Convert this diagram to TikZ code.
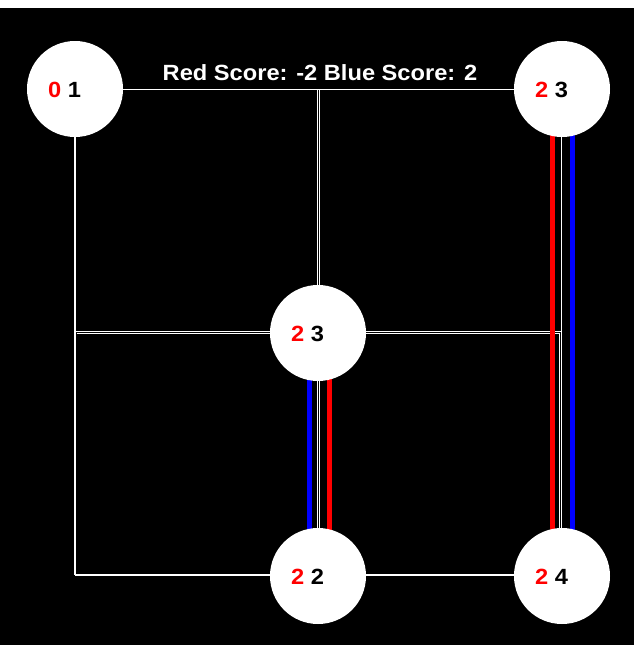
\documentclass[tikz,border=0pt]{standalone}
\usepackage{fontspec}
\setmainfont[FakeStretch=1.075]{Liberation Sans}
\begin{document}
\begin{tikzpicture}[x=1pt,y=-1pt,
  edge/.style={draw=white,line width=1.4pt},
  redline/.style={draw=red,line width=5pt},
  blueline/.style={draw=blue,line width=5pt},
  ball/.style={circle,fill=white,draw=none,minimum size=96pt,inner sep=0pt},
  lbl/.style={anchor=base west,inner sep=0pt,font=\fontsize{22pt}{24pt}\selectfont\bfseries},
  title/.style={anchor=base,inner sep=0pt,text=white,font=\fontsize{22pt}{24pt}\selectfont\bfseries}]
\fill[black] (0,0) rectangle (634,645);
\fill[white] (0,0) rectangle (634,7.5);
\useasboundingbox (0,0) rectangle (634,645);
% centres
\coordinate (a) at (75,89);
\coordinate (b) at (562,89);
\coordinate (c) at (318,333);
\coordinate (d) at (318,576);
\coordinate (e) at (562,576);
\coordinate (t) at (318,89);
\coordinate (l) at (75,333);
\coordinate (r) at (562,333);
\coordinate (bl) at (75,576);
% white edges
\draw[edge] ([yshift=-0.3pt]a) -- ([yshift=-0.3pt]b);
\draw[edge] ([xshift=-0.8pt]t) -- ([xshift=-0.8pt]c);
\draw[edge] ([xshift=1.3pt]t) -- ([xshift=1.3pt]c);
\draw[edge] (a) -- ([yshift=1pt]bl);
\draw[edge] ([yshift=1.3pt]l) -- ([xshift=-0.3pt,yshift=1.3pt]r);
\draw[edge] ([xshift=1.5pt,yshift=-0.5pt]l) -- ([xshift=-2.3pt,yshift=-0.5pt]r);
\draw[edge] ([xshift=-0.3pt]b) -- ([xshift=-0.3pt]e);
\draw[edge] ([xshift=-2.3pt,yshift=-0.5pt]r) -- ([xshift=-2.3pt]e);
\draw[edge] ([yshift=1pt]bl) -- ([yshift=1pt]e);
\draw[edge] ([xshift=-0.8pt]c) -- ([xshift=-0.8pt]d);
\draw[edge] ([xshift=1.3pt]c) -- ([xshift=1.3pt]d);
% coloured edges
\draw[redline] ([xshift=-9.7pt]b) -- ([xshift=-9.7pt]e);
\draw[blueline] ([xshift=10.3pt]b) -- ([xshift=10.3pt]e);
\draw[blueline] ([xshift=-8.7pt]c) -- ([xshift=-8.7pt]d);
\draw[redline] ([xshift=11.3pt]c) -- ([xshift=11.3pt]d);
% balls
\node[ball] (A) at (a) {};
\node[ball] (B) at (b) {};
\node[ball] (C) at (c) {};
\node[ball] (D) at (d) {};
\node[ball] (E) at (e) {};
% labels
\node[lbl] (As) at (48,97) {\textcolor{red}{0} 1};
\node[lbl] (Bs) at (535,97) {\textcolor{red}{2} 3};
\node[lbl] (Cs) at (291,341) {\textcolor{red}{2} 3};
\node[lbl] (Ds) at (291,584) {\textcolor{red}{2} 2};
\node[lbl] (Es) at (535,584) {\textcolor{red}{2} 4};
\node[title] (score) at (320,80) {Red Score: -2 Blue Score: 2};
\end{tikzpicture}
\end{document}
